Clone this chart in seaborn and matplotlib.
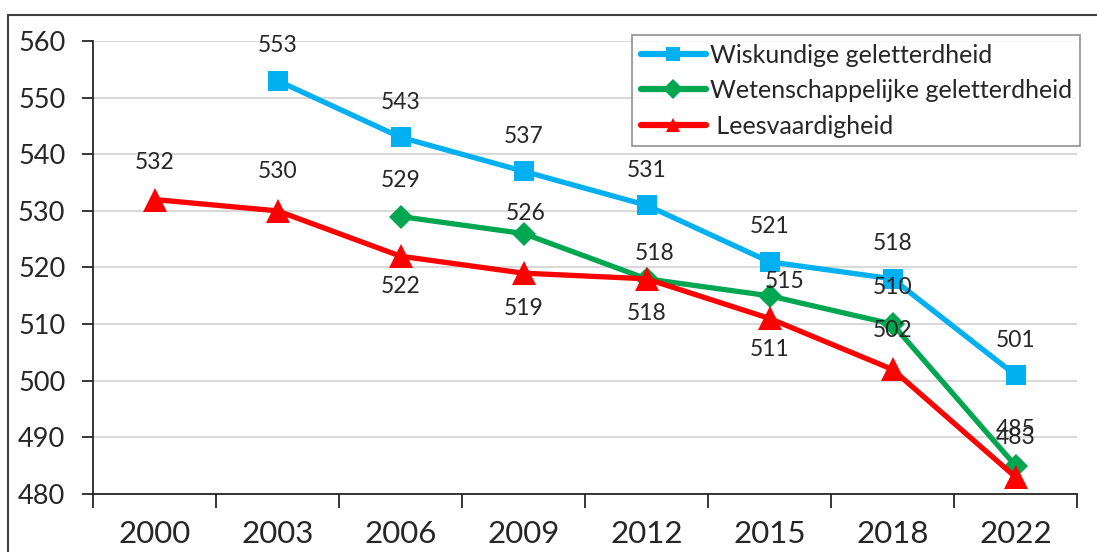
import numpy as np
import pandas as pd
import matplotlib.pyplot as plt
import seaborn as sns
from matplotlib.patches import Rectangle

# ---- data ----
YEARS = ['2000', '2003', '2006', '2009', '2012', '2015', '2018', '2022']
WISKUNDE = [np.nan, 553, 543, 537, 531, 521, 518, 501]
WETENSCHAP = [np.nan, np.nan, 529, 526, 518, 515, 510, 485]
LEZEN = [532, 530, 522, 519, 518, 511, 502, 483]
SERIES = ['Wiskundige geletterdheid', 'Wetenschappelijke geletterdheid', 'Leesvaardigheid']

# ---- style ----
COLORS = {SERIES[0]: '#00B0F0', SERIES[1]: '#00A650', SERIES[2]: '#FF0000'}
MARKERS = {SERIES[0]: 's', SERIES[1]: 'D', SERIES[2]: '^'}
MSIZE = {SERIES[0]: 15, SERIES[1]: 12, SERIES[2]: 17}
# label offsets in pixels (dx, dy)
OFFS = {
    SERIES[0]: [(0, 35)] * 8,
    SERIES[1]: [(0, 0), (0, 0), (0, 36), (2, 20), (8, 25), (15, 14), (0, 37), (0, 36)],
    SERIES[2]: [(0, 37), (0, 39), (0, -30), (0, -35), (0, -35), (0, -31), (0, 39), (0, 40)],
}

rows = []
for name, vals in zip(SERIES, [WISKUNDE, WETENSCHAP, LEZEN]):
    for i, v in enumerate(vals):
        rows.append({'x': i, 'jaar': YEARS[i], 'score': v, 'reeks': name})
df = pd.DataFrame(rows)

sns.set_theme(style='white')
plt.rcParams['font.family'] = ['Lato', 'DejaVu Sans']

fig = plt.figure(figsize=(10.97, 5.52), dpi=100)
ax = fig.add_axes([93 / 1097, 1 - 494 / 552, (1077 - 93) / 1097, (494 - 41) / 552])

for name in SERIES:
    d = df[df['reeks'] == name].dropna()
    lbl = ' ' + name if name == SERIES[2] else name
    sns.lineplot(data=d, x='x', y='score', ax=ax, color=COLORS[name], linewidth=3.8,
                 marker=MARKERS[name], markersize=MSIZE[name], markeredgewidth=0,
                 label=lbl, zorder=3)
    for _, r in d.iterrows():
        dx, dy = OFFS[name][int(r['x'])]
        ax.annotate(f"{int(r['score'])}", (r['x'], r['score']), xytext=(dx, dy),
                    textcoords='offset pixels', ha='center', va='center',
                    fontsize=16.5, color='#262626', zorder=5)

ax.set_xlim(-0.5, 7.5)
ax.set_ylim(480, 560)
ax.set_yticks(range(480, 561, 10))
ax.set_xticks(range(8))
ax.set_xticklabels(YEARS)
ax.set_xticks(np.arange(-0.5, 8, 1), minor=True)
ax.tick_params(axis='x', which='major', length=0, labelsize=22.5, pad=19, colors='#262626')
ax.tick_params(axis='x', which='minor', length=10, width=1.3, color='#262626', direction='out')
ax.tick_params(axis='y', which='major', length=8, width=1.3, color='#262626',
               labelsize=19.5, pad=12, direction='out', labelcolor='#262626')
ax.tick_params(left=True, bottom=True)
ax.xaxis.set_tick_params(which='minor', bottom=True)
ax.yaxis.grid(True, color='#D9D9D9', linewidth=1.5)
ax.set_axisbelow(True)
ax.set_xlabel('')
ax.set_ylabel('')
for s in ['top', 'right']:
    ax.spines[s].set_visible(False)
for s in ['left', 'bottom']:
    ax.spines[s].set_color('#262626')
    ax.spines[s].set_linewidth(1.3)

leg = ax.legend(loc='upper left', bbox_to_anchor=((632 - 93) / 984, 1 + 6 / 453),
                fontsize=18, frameon=True, fancybox=False, edgecolor='#7F7F7F',
                handlelength=2.6, handletextpad=0.15, borderpad=0.35, labelspacing=0.5,
                borderaxespad=0)
leg.get_frame().set_linewidth(1.3)
for h in leg.legend_handles:
    h.set_markersize(10)
    h.set_linewidth(4.5)

# outer frame of the chart area
fig.patches.append(Rectangle((8 / 1097, -0.1), 1.2, 1 - 15 / 552 + 0.1,
                             transform=fig.transFigure, fill=False,
                             edgecolor='#404040', linewidth=1.5))

fig.savefig('out.png', dpi=100)
